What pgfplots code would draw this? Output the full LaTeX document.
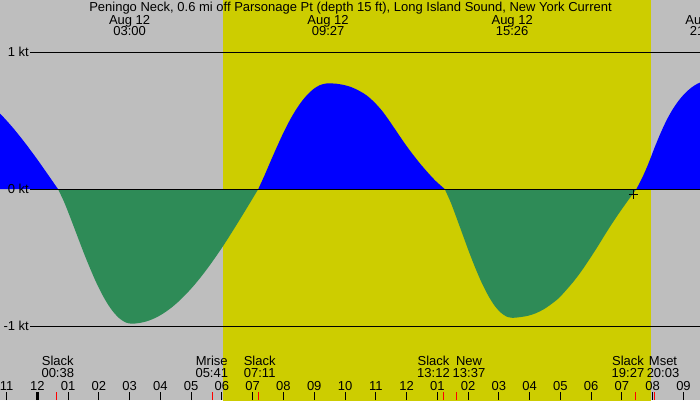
\documentclass[border=0pt]{standalone}
\usepackage{pgfplots}
\pgfplotsset{compat=1.18}
\usepackage{fontspec}
\setmainfont{Liberation Sans}
\definecolor{bggray}{RGB}{190,190,190}
\definecolor{dayyellow}{RGB}{205,205,0}
\definecolor{floodblue}{RGB}{0,0,255}
\definecolor{ebbgreen}{RGB}{46,139,87}
\begin{document}
\begin{tikzpicture}
\begin{axis}[
  at={(0,0)}, anchor=south west,
  scale only axis, width=700pt, height=400pt,
  xmin=-1.2122, xmax=21.537, ymin=-1.5401, ymax=1.3796,
  axis line style={draw=none},
  axis background/.style={fill=bggray},
  axis on top,
  ytick=\empty,
  xtick={-1,0,...,21},
  xticklabels={11,12,01,02,03,04,05,06,07,08,09,10,11,12,01,02,03,04,05,06,07,08,09},
  xtick pos=lower, tick align=inside,
  major tick length=8pt,
  every tick/.style={black, line width=1pt},
  xticklabel style={anchor=base, yshift=10pt, inner sep=0pt, font=\fontsize{13}{15}\selectfont},
  clip=true,
  font=\fontsize{13}{15}\selectfont,
]
% daylight
\addplot[fill=dayyellow, draw=none] coordinates {(6.035,-1.6) (6.035,1.4) (19.94,1.4) (19.94,-1.6) (6.035,-1.6)};
% current lobes
\addplot[fill=floodblue, draw=none, smooth] coordinates {(-1.8,0) (-1.8,0.66) (-1.6,0.633) (-1.4,0.593) (-1.2,0.548) (-1.0,0.500) (-0.8,0.449) (-0.6,0.394) (-0.4,0.337) (-0.2,0.277) (0.0,0.216) (0.2,0.152) (0.4,0.088) (0.6,0.023) (0.672,0)};
\addplot[fill=ebbgreen, draw=none, smooth] coordinates {(0.672,0) (0.872,-0.095) (1.072,-0.208) (1.272,-0.326) (1.472,-0.444) (1.672,-0.556) (1.872,-0.661) (2.072,-0.754) (2.272,-0.834) (2.472,-0.898) (2.672,-0.945) (2.872,-0.974) (3.068,-0.983) (3.318,-0.978) (3.568,-0.965) (3.818,-0.943) (4.068,-0.912) (4.318,-0.873) (4.568,-0.826) (4.818,-0.771) (5.068,-0.710) (5.318,-0.642) (5.568,-0.568) (5.818,-0.489) (6.068,-0.406) (6.318,-0.318) (6.568,-0.228) (6.818,-0.136) (7.068,-0.043) (7.182,0)};
\addplot[fill=floodblue, draw=none, smooth] coordinates {(7.182,0) (7.382,0.098) (7.582,0.203) (7.782,0.305) (7.982,0.403) (8.182,0.492) (8.382,0.570) (8.582,0.636) (8.782,0.690) (8.982,0.731) (9.182,0.758) (9.382,0.770) (9.55,0.771) (9.7,0.769) (9.95,0.760) (10.2,0.744) (10.45,0.718) (10.7,0.684) (10.95,0.634) (11.2,0.572) (11.45,0.495) (11.7,0.412) (11.95,0.330) (12.2,0.254) (12.45,0.183) (12.7,0.118) (12.95,0.058) (13.24,0)};
\addplot[fill=ebbgreen, draw=none, smooth] coordinates {(13.24,0) (13.44,-0.100) (13.64,-0.220) (13.84,-0.343) (14.04,-0.465) (14.24,-0.579) (14.44,-0.683) (14.64,-0.772) (14.84,-0.845) (15.04,-0.898) (15.24,-0.930) (15.433,-0.940) (15.7,-0.935) (15.95,-0.925) (16.2,-0.907) (16.45,-0.879) (16.7,-0.841) (16.95,-0.796) (17.2,-0.735) (17.45,-0.669) (17.7,-0.594) (17.95,-0.511) (18.2,-0.424) (18.45,-0.333) (18.7,-0.245) (18.95,-0.162) (19.2,-0.083) (19.47,0)};
\addplot[fill=floodblue, draw=none, smooth] coordinates {(19.47,0) (19.65,0.078) (19.85,0.180) (20.05,0.296) (20.25,0.405) (20.45,0.502) (20.65,0.582) (20.85,0.647) (21.05,0.699) (21.25,0.739) (21.45,0.768) (21.65,0.786) (21.85,0.793) (21.9,0)};
% reference lines
\addplot[black, line width=1pt] coordinates {(-0.237,1) (21.6,1)};
\addplot[black, line width=1pt] coordinates {(-0.237,0) (21.6,0)};
\addplot[black, line width=1pt] coordinates {(-0.237,-1) (21.6,-1)};
% current time marker
\addplot[only marks, mark=+, mark size=4.5pt, black, mark options={line width=1pt}] coordinates {(19.37,-0.0387)};
% midnight tick
\addplot[black, line width=3pt] coordinates {(0,-1.5401) (0,-1.4817)};
% event ticks
\addplot[red, line width=1pt, unbounded coords=jump] coordinates {
 (0.633,-1.5401) (0.633,-1.4817) (0.7,nan)
 (5.683,-1.5401) (5.683,-1.4817) (5.7,nan)
 (7.183,-1.5401) (7.183,-1.4817) (7.2,nan)
 (13.2,-1.5401) (13.2,-1.4817) (13.3,nan)
 (13.617,-1.5401) (13.617,-1.4817) (13.7,nan)
 (19.45,-1.5401) (19.45,-1.4817) (19.5,nan)
 (20.05,-1.5401) (20.05,-1.4817)};
% y labels
\node[anchor=east, inner sep=0pt] at (axis cs:-0.27,1) {1 kt};
\node[anchor=east, inner sep=0pt] at (axis cs:-0.27,0) {0 kt};
\node[anchor=east, inner sep=0pt] at (axis cs:-0.27,-1) {-1 kt};
% title and peak labels
\node[anchor=base, inner sep=0pt] at (axis cs:10.179,1.294) {Peningo Neck, 0.6 mi off Parsonage Pt (depth 15 ft), Long Island Sound, New York Current};
\node[anchor=base, inner sep=0pt] at (axis cs:3.0,1.204) {Aug 12};
\node[anchor=base, inner sep=0pt] at (axis cs:3.0,1.119) {03:00};
\node[anchor=base, inner sep=0pt] at (axis cs:9.45,1.204) {Aug 12};
\node[anchor=base, inner sep=0pt] at (axis cs:9.45,1.119) {09:27};
\node[anchor=base, inner sep=0pt] at (axis cs:15.433,1.204) {Aug 12};
\node[anchor=base, inner sep=0pt] at (axis cs:15.433,1.119) {15:26};
\node[anchor=base, inner sep=0pt] at (axis cs:21.733,1.204) {Aug 12};
\node[anchor=base, inner sep=0pt] at (axis cs:21.733,1.119) {21:44};
% event labels
\node[anchor=base, inner sep=0pt] at (axis cs:0.666,-1.290) {Slack};
\node[anchor=base, inner sep=0pt] at (axis cs:0.666,-1.374) {00:38};
\node[anchor=base, inner sep=0pt] at (axis cs:5.671,-1.290) {Mrise};
\node[anchor=base, inner sep=0pt] at (axis cs:5.671,-1.374) {05:41};
\node[anchor=base, inner sep=0pt] at (axis cs:7.228,-1.290) {Slack};
\node[anchor=base, inner sep=0pt] at (axis cs:7.228,-1.374) {07:11};
\node[anchor=base, inner sep=0pt] at (axis cs:12.876,-1.290) {Slack};
\node[anchor=base, inner sep=0pt] at (axis cs:12.876,-1.374) {13:12};
\node[anchor=base, inner sep=0pt] at (axis cs:14.030,-1.290) {New};
\node[anchor=base, inner sep=0pt] at (axis cs:14.030,-1.374) {13:37};
\node[anchor=base, inner sep=0pt] at (axis cs:19.197,-1.290) {Slack};
\node[anchor=base, inner sep=0pt] at (axis cs:19.197,-1.374) {19:27};
\node[anchor=base, inner sep=0pt] at (axis cs:20.335,-1.290) {Mset};
\node[anchor=base, inner sep=0pt] at (axis cs:20.335,-1.374) {20:03};
\end{axis}
\pgfresetboundingbox
\path[use as bounding box] (0,0) rectangle (700pt,400pt);
\end{tikzpicture}
\end{document}
